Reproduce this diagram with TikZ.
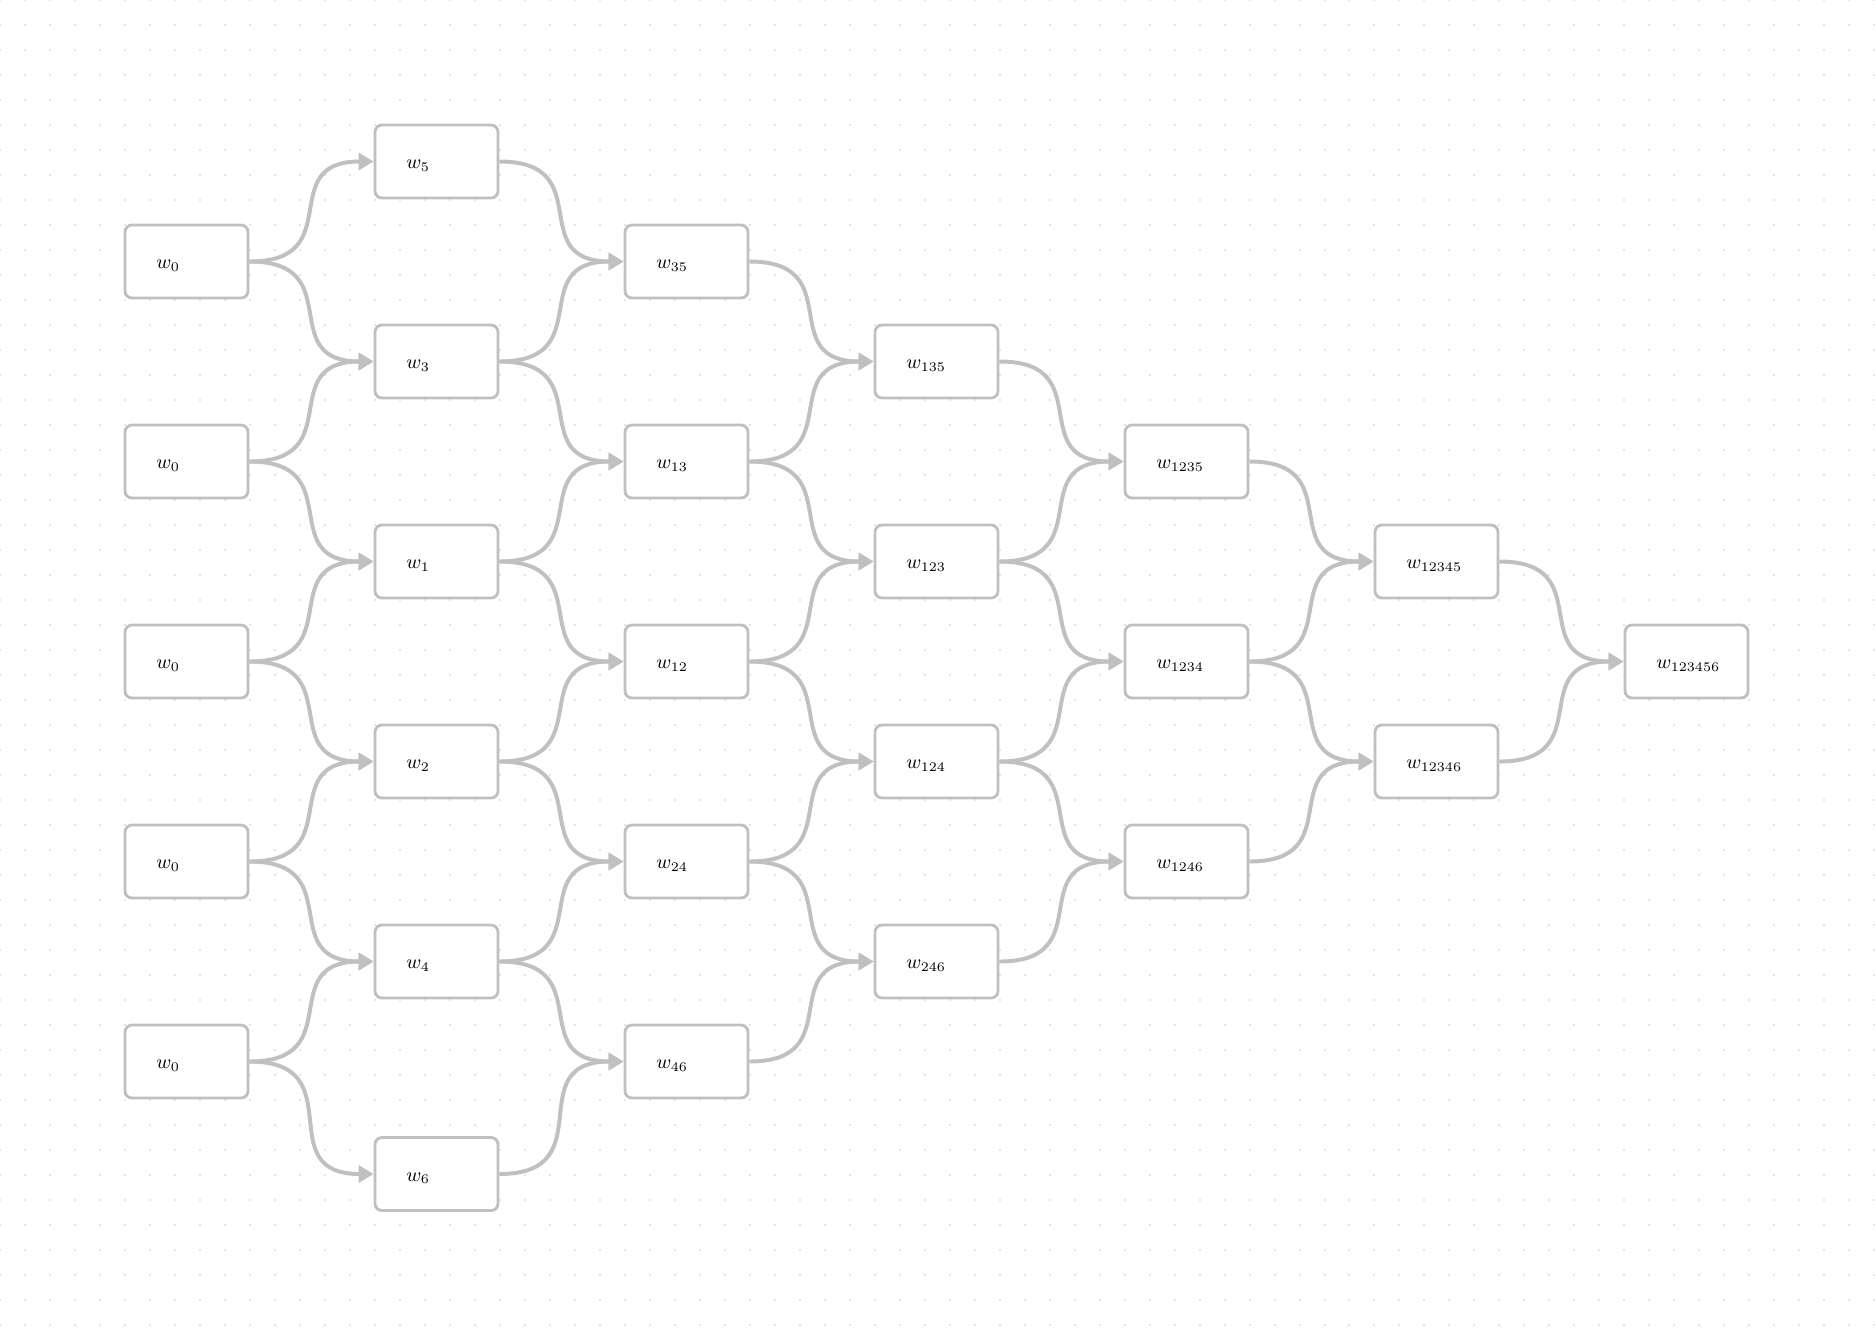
\documentclass[tikz,border=0pt]{standalone}
\usetikzlibrary{arrows.meta}
\definecolor{edgegray}{RGB}{192,192,192}
\definecolor{dotgray}{RGB}{228,228,228}

\begin{document}
\begin{tikzpicture}[x=0.016cm, y=-0.016cm,
    wbox/.style={draw=edgegray, line width=1.3pt, fill=white, rounded corners=0.11cm,
        text width=0.968cm, inner xsep=0.5cm, minimum height=1.168cm, align=left,
        text height=7.8pt, text depth=1pt, font=\fontsize{9}{11}\selectfont},
    link/.style={draw=edgegray, line width=1.8pt, -{Triangle[length=0.24cm,width=0.27cm]},
        out=0, in=180, looseness=1.6}]
    \useasboundingbox (0,0) rectangle (1875,1338);
    % dotted background
    \foreach \y in {0,25,...,1325}
        \draw[dotgray, line width=0.032cm, dash pattern=on 0.032cm off 0.368cm] (-1,\y) -- (1876,\y);

    \node[wbox] (w0a) at (186.5,261.5) {$w_0$};
    \node[wbox] (w0b) at (186.5,461.5) {$w_0$};
    \node[wbox] (w0c) at (186.5,661.5) {$w_0$};
    \node[wbox] (w0d) at (186.5,861.5) {$w_0$};
    \node[wbox] (w0e) at (186.5,1061.5) {$w_0$};

    \node[wbox] (w5) at (436.5,161.5) {$w_5$};
    \node[wbox] (w3) at (436.5,361.5) {$w_3$};
    \node[wbox] (w1) at (436.5,561.5) {$w_1$};
    \node[wbox] (w2) at (436.5,761.5) {$w_2$};
    \node[wbox] (w4) at (436.5,961.5) {$w_4$};
    \node[wbox] (w6) at (436.5,1174) {$w_6$};

    \node[wbox] (w35) at (686.5,261.5) {$w_{35}$};
    \node[wbox] (w13) at (686.5,461.5) {$w_{13}$};
    \node[wbox] (w12) at (686.5,661.5) {$w_{12}$};
    \node[wbox] (w24) at (686.5,861.5) {$w_{24}$};
    \node[wbox] (w46) at (686.5,1061.5) {$w_{46}$};

    \node[wbox] (w135) at (936.5,361.5) {$w_{135}$};
    \node[wbox] (w123) at (936.5,561.5) {$w_{123}$};
    \node[wbox] (w124) at (936.5,761.5) {$w_{124}$};
    \node[wbox] (w246) at (936.5,961.5) {$w_{246}$};

    \node[wbox] (w1235) at (1186.5,461.5) {$w_{1235}$};
    \node[wbox] (w1234) at (1186.5,661.5) {$w_{1234}$};
    \node[wbox] (w1246) at (1186.5,861.5) {$w_{1246}$};

    \node[wbox] (w12345) at (1436.5,561.5) {$w_{12345}$};
    \node[wbox] (w12346) at (1436.5,761.5) {$w_{12346}$};

    \node[wbox] (w123456) at (1686.5,661.5) {$w_{123456}$};

    \foreach \a/\b in {w0a/w5, w0a/w3, w0b/w3, w0b/w1, w0c/w1, w0c/w2, w0d/w2, w0d/w4, w0e/w4, w0e/w6,
            w5/w35, w3/w35, w3/w13, w1/w13, w1/w12, w2/w12, w2/w24, w4/w24, w4/w46, w6/w46,
            w35/w135, w13/w135, w13/w123, w12/w123, w12/w124, w24/w124, w24/w246, w46/w246,
            w135/w1235, w123/w1235, w123/w1234, w124/w1234, w124/w1246, w246/w1246,
            w1235/w12345, w1234/w12345, w1234/w12346, w1246/w12346,
            w12345/w123456, w12346/w123456}
        \draw[link] (\a.east) to (\b.west);
\end{tikzpicture}
\end{document}
